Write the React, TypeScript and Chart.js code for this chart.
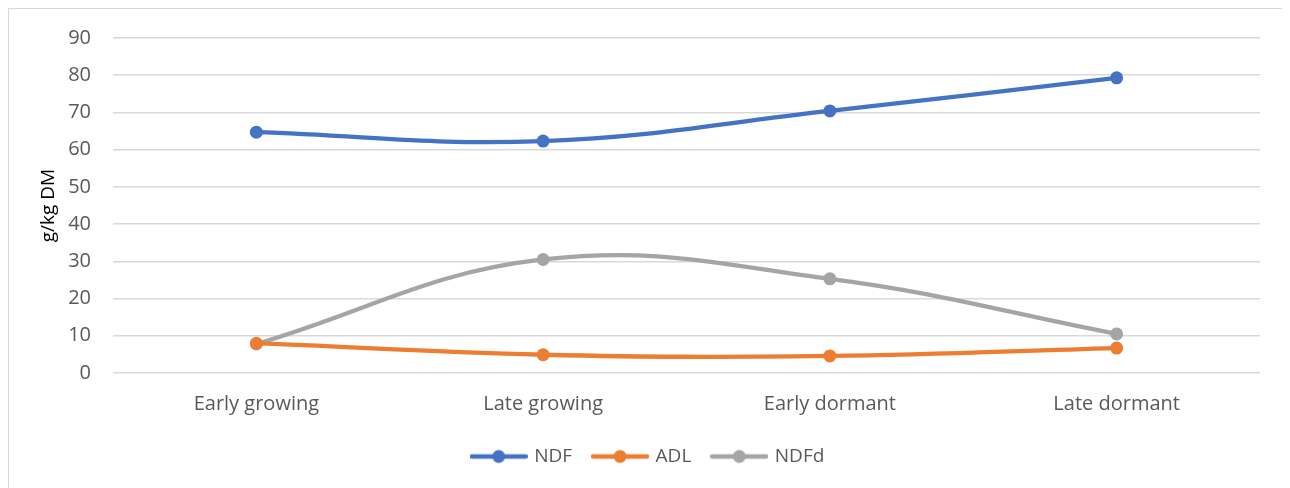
import React, { useEffect, useRef } from "react";
import { Chart, registerables } from "chart.js";

Chart.register(...registerables);

const stages = ["Early growing", "Late growing", "Early dormant", "Late dormant"];
const ndf = [64.7, 62.3, 70.4, 79.3];
const adl = [8.0, 4.9, 4.6, 6.7];
const ndfd = [7.8, 30.5, 25.3, 10.5];
const yTicks = [0, 10, 20, 30, 40, 50, 60, 70, 80, 90];

const BLUE = "#4472C4";
const ORANGE = "#ED7D31";
const GRAY = "#A5A5A5";
const FONT = "'Open Sans', 'Liberation Sans', sans-serif";

// Legend swatch: a short line with a dot in its middle
function legendSwatch(color: string): HTMLCanvasElement {
  const c = document.createElement("canvas");
  c.width = 58;
  c.height = 16;
  const ctx = c.getContext("2d")!;
  ctx.strokeStyle = color;
  ctx.lineWidth = 4.3;
  ctx.lineCap = "round";
  ctx.beginPath();
  ctx.moveTo(2, 8);
  ctx.lineTo(56, 8);
  ctx.stroke();
  ctx.fillStyle = color;
  ctx.beginPath();
  ctx.arc(29, 8, 6.5, 0, Math.PI * 2);
  ctx.fill();
  return c;
}

export default function App() {
  const canvasRef = useRef<HTMLCanvasElement | null>(null);

  useEffect(() => {
    document.body.style.overflow = "hidden";
    const swatches = [legendSwatch(BLUE), legendSwatch(ORANGE), legendSwatch(GRAY)];
    const series = [
      { label: "NDF", data: ndf, color: BLUE },
      { label: "ADL", data: adl, color: ORANGE },
      { label: "NDFd", data: ndfd, color: GRAY },
    ];
    const chart = new Chart(canvasRef.current!, {
      type: "line",
      data: {
        labels: stages,
        datasets: series.map((s) => ({
          label: s.label,
          data: s.data,
          borderColor: s.color,
          backgroundColor: s.color,
          borderWidth: 4.3,
          pointRadius: 6.5,
          pointHoverRadius: 6.5,
          pointBorderWidth: 0,
          tension: 0.4,
          fill: false,
        })),
      },
      options: {
        animation: false,
        responsive: false,
        layout: { padding: { top: 29, right: 28, left: 28, bottom: 15 } },
        plugins: {
          tooltip: { enabled: false },
          legend: {
            position: "bottom",
            labels: {
              usePointStyle: true,
              pointStyleWidth: 52,
              padding: 22,
              color: "#595959",
              font: { family: FONT, size: 19 },
              generateLabels: (ch: Chart) =>
                Chart.defaults.plugins.legend.labels
                  .generateLabels(ch)
                  .map((item: any, i: number) => ({ ...item, pointStyle: swatches[i] })),
            },
          },
        },
        scales: {
          x: {
            offset: true,
            afterFit: (axis: any) => {
              axis.height = 52;
            },
            grid: { display: false, drawTicks: false },
            border: { display: false },
            ticks: {
              color: "#595959",
              font: { family: FONT, size: 20 },
              padding: 19,
            },
          },
          y: {
            min: 0,
            max: 90,
            afterBuildTicks: (axis: any) => {
              axis.ticks = yTicks.map((v) => ({ value: v }));
            },
            afterFit: (axis: any) => {
              axis.width = 76;
              axis.paddingTop = 12;
              axis.paddingBottom = 12;
            },
            grid: { color: "#D9D9D9", lineWidth: 1.5, drawTicks: false },
            border: { display: false },
            ticks: {
              color: "#595959",
              font: { family: FONT, size: 20 },
              padding: 22,
            },
            title: {
              display: true,
              text: "g/kg DM",
              color: "#000000",
              font: { family: FONT, size: 19 },
              padding: { top: 0, bottom: 0 },
            },
          },
        },
      },
    });
    return () => chart.destroy();
  }, []);

  return (
    <div
      style={{
        width: 1279,
        height: 482,
        border: "1px solid #D9D9D9",
        background: "#FFFFFF",
      }}
    >
      <canvas ref={canvasRef} width={1279} height={482} style={{ display: "block" }} />
    </div>
  );
}
